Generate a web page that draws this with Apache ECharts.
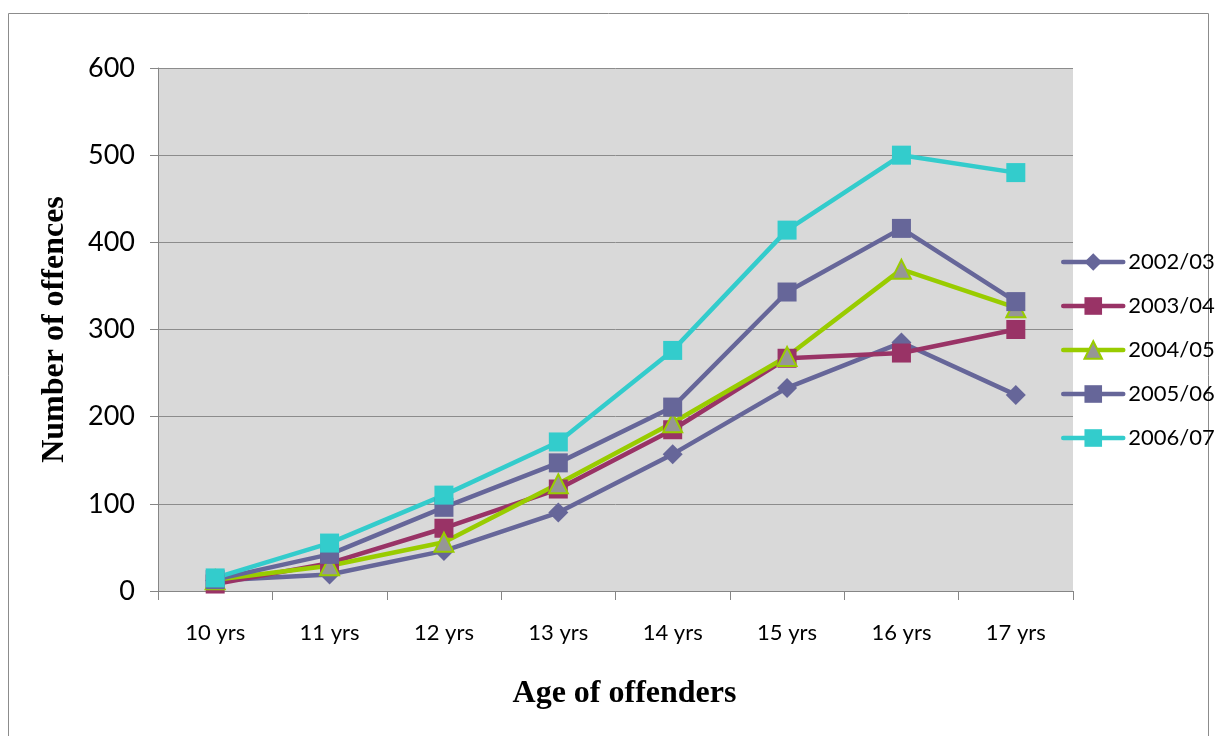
<!DOCTYPE html>
<html><head><meta charset="utf-8">
<script src="https://cdn.jsdelivr.net/npm/echarts@6/dist/echarts.min.js"></script>
<style>html,body{margin:0;padding:0;background:#fff}#c{width:1215px;height:736px}</style>
</head><body><div id="c"></div>
<script>
const categories = ['10 yrs','11 yrs','12 yrs','13 yrs','14 yrs','15 yrs','16 yrs','17 yrs'];
const seriesNames = ['2002/03','2003/04','2004/05','2005/06','2006/07'];
const s2002 = [12, 19, 46, 90, 157, 233, 285, 225];
const s2003 = [8, 32, 72, 117, 185, 267, 273, 300];
const s2004 = [13, 29, 56, 123, 193, 269, 369, 325];
const s2005 = [13, 42, 96, 147, 211, 343, 416, 332];
const s2006 = [15, 55, 110, 171, 276, 414, 500, 480];
const yTicks = [0, 100, 200, 300, 400, 500, 600];

const chart = echarts.init(document.getElementById('c'));
const font = 'Lato, "Open Sans", sans-serif';
const serif = '"Liberation Serif", "Times New Roman", serif';
function mk(name, data, color, symbol, size, extra) {
  return Object.assign({
    name, type: 'line', data, symbol, symbolSize: size,
    lineStyle: { color, width: 4.5 },
    itemStyle: { color, borderColor: color, borderWidth: 0 },
    emphasis: { disabled: true },
    animation: false, z: 2
  }, extra || {});
}
chart.setOption({
  animation: false,
  graphic: [{ type: 'rect', shape: { x: 8.5, y: 13.5, width: 1200, height: 740 }, style: { fill: 'none', stroke: '#8c8c8c', lineWidth: 1 }, silent: true, z: -10 }],
  grid: { left: 158, top: 68, right: 142, bottom: 145, show: true, backgroundColor: '#d9d9d9', borderWidth: 0 },
  legend: {
    orient: 'vertical', left: 1056, top: 246, itemWidth: 60, itemHeight: 22, itemGap: 22,
    data: seriesNames,
    lineStyle: { width: 4.5, cap: 'round' },
    textStyle: { fontFamily: font, fontSize: 22, lineHeight: 22, color: '#000' }
  },
  xAxis: {
    type: 'category', data: categories,
    axisLine: { show: true, lineStyle: { color: '#868686', width: 1 } },
    axisTick: { show: true, length: 9, lineStyle: { color: '#868686' } },
    axisLabel: { fontFamily: font, fontSize: 22, color: '#000', margin: 31 },
    name: 'Age of offenders', nameLocation: 'middle', nameGap: 87,
    nameTextStyle: { fontFamily: serif, fontWeight: 'bold', fontSize: 32, color: '#000', padding: [0, 0, 0, 18] }
  },
  yAxis: {
    type: 'value', min: yTicks[0], max: yTicks[yTicks.length - 1], interval: 100,
    axisLine: { show: true, lineStyle: { color: '#868686', width: 1 } },
    axisTick: { show: true, length: 8, lineStyle: { color: '#868686' } },
    splitLine: { show: true, lineStyle: { color: '#8c8c8c', width: 1 } },
    axisLabel: { fontFamily: font, fontSize: 27, color: '#000', margin: 23 },
    name: 'Number of offences', nameLocation: 'middle', nameGap: 87, nameRotate: 90,
    nameTextStyle: { fontFamily: serif, fontWeight: 'bold', fontSize: 32, color: '#000' }
  },
  series: [
    mk(seriesNames[0], s2002, '#666699', 'diamond', 20),
    mk(seriesNames[1], s2003, '#993366', 'rect', 19),
    mk(seriesNames[2], s2004, '#99cc00', 'triangle', 19, { itemStyle: { color: '#969696', borderColor: '#99cc00', borderWidth: 2 } }),
    mk(seriesNames[3], s2005, '#666699', 'rect', 19),
    mk(seriesNames[4], s2006, '#33cccc', 'rect', 19)
  ]
});
</script></body></html>
